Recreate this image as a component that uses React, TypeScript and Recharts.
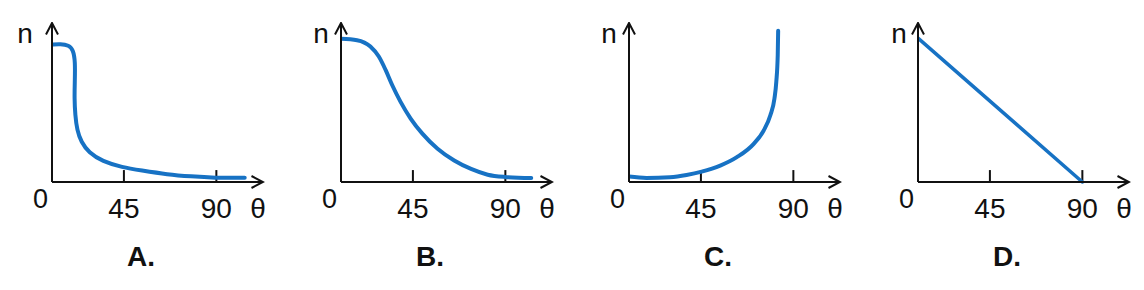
import * as React from "react";
import { Label, Line, LineChart, ReferenceDot, ReferenceLine, XAxis, YAxis } from "recharts";

// θ (origin sits at about θ=10, since the
// 45 and 90 ticks are not spaced from the origin evenly)
const THETA_MIN = 10;
const THETA_MAX = 112.7;
const TICKS = [45, 90];
const PANELS = ["A.", "B.", "C.", "D."];

const thetaA = [10, 14.1, 18.2, 20.3, 21.3, 21.1, 20.9, 21.3, 22.2, 24.2, 27.9, 34.5, 44.2, 53.2, 66.3, 77.7, 89.1, 103.8];
const nA = [86.4, 86.8, 86, 83.2, 75.8, 63.2, 52.6, 42.1, 32.6, 25.2, 18.5, 13.0, 9.2, 7.3, 4.7, 3.5, 2.6, 2.6];

const thetaB = [10, 17.8, 24.3, 28.4, 31.7, 34.9, 39, 43.9, 49.6, 57, 65.1, 73.3, 81.4, 89.6, 102.6];
const nB = [90.1, 89.2, 85.2, 78.9, 70.5, 61, 50.4, 39.9, 30.4, 20.9, 13.5, 8.2, 4.6, 3.2, 2.5];

const thetaC = [10, 18.5, 29.9, 38, 45.4, 54.4, 62.5, 70.7, 75.6, 78.8, 80.8, 81.7, 82.4, 82.6];
const nC = [3.4, 2.5, 3.0, 4.4, 6.5, 10.3, 15.6, 24, 32.5, 42, 52.5, 63.1, 80, 95.1];

const thetaD = [10, 90];
const nD = [90.5, 0];

const BLUE = "#1772c4";
const INK = "#111";
const FONT = "'Liberation Sans', Arial, Helvetica, sans-serif";

const zip = (t: number[], n: number[]) => t.map((v, i) => ({ t: v, n: n[i] }));

const SERIES = [
  { data: zip(thetaA, nA), curve: "basis", width: 4 },
  { data: zip(thetaB, nB), curve: "monotone", width: 4 },
  { data: zip(thetaC, nC), curve: "monotone", width: 4 },
  { data: zip(thetaD, nD), curve: "linear", width: 3.5 },
] as const;

// origin x of each panel, and where its "n" sits left of the axis
const ORIGIN_X = [52, 341, 629, 918];
const N_SHIFT = [-27, -20, -20, -19];

const W = 275;
const H = 290;
const LEFT = 50;

function Panel({ i }: { i: number }) {
  const s = SERIES[i];
  const mk = `arrow${i}`;
  return (
    <div style={{ position: "absolute", left: ORIGIN_X[i] - LEFT, top: 0 }}>
      <LineChart width={W} height={H} data={s.data as any} margin={{ top: 23, right: W - LEFT - 211, bottom: 68, left: LEFT - 1 }}>
        <defs>
          <marker id={mk} viewBox="0 0 14 14" refX={12.5} refY={7} markerWidth={14} markerHeight={14} markerUnits="userSpaceOnUse" orient="auto-start-reverse">
            <path d="M1 1 L12.5 7 L1 13" fill="none" stroke={INK} strokeWidth={2} />
          </marker>
        </defs>
        <XAxis
          dataKey="t"
          type="number"
          domain={[THETA_MIN, THETA_MAX]}
          ticks={TICKS}
          allowDataOverflow
          height={40}
          tickLine={false}
          tickSize={0}
          tickMargin={16}
          tick={{ fill: INK, fontSize: 28 }}
          axisLine={{ stroke: INK, strokeWidth: 2, markerEnd: `url(#${mk})` }}
          label={{
            content: ({ viewBox }: any) => (
              <text x={viewBox.x + viewBox.width - 5} y={viewBox.y + 36} textAnchor="middle" fontSize={28} fill={INK}>θ</text>
            ),
          }}
        />
        <YAxis
          type="number"
          domain={[0, 100]}
          width={1}
          tick={false}
          tickLine={false}
          axisLine={{ stroke: INK, strokeWidth: 2, markerStart: `url(#${mk})` }}
          label={{
            content: ({ viewBox }: any) => (
              <text x={viewBox.x + viewBox.width + N_SHIFT[i]} y={viewBox.y + 20} textAnchor="middle" fontSize={28} fill={INK}>n</text>
            ),
          }}
        />
        {TICKS.map((t) => (
          <ReferenceLine key={t} segment={[{ x: t, y: 0 }, { x: t, y: 7.5 }]} stroke={INK} strokeWidth={2} />
        ))}
        <ReferenceDot x={THETA_MIN} y={0} r={0} stroke="none" fill="none">
          <Label
            content={({ viewBox }: any) => (
              <text x={viewBox.x - 4} y={viewBox.y + 26} textAnchor="end" fontSize={27} fill={INK}>0</text>
            )}
          />
        </ReferenceDot>
        <Line type={s.curve as any} dataKey="n" stroke={BLUE} strokeWidth={s.width} strokeLinecap="round" dot={false} activeDot={false} isAnimationActive={false} />
      </LineChart>
      <div style={{ position: "absolute", left: LEFT + 89 - 30, width: 60, top: 241, textAlign: "center", fontWeight: 700, fontSize: 28, color: INK }}>
        {PANELS[i]}
      </div>
    </div>
  );
}

export default function App() {
  return (
    <div style={{ position: "fixed", left: 0, top: 0, width: 1144, height: 290, background: "#fff", fontFamily: FONT, overflow: "hidden" }}>
      {PANELS.map((_, i) => (
        <Panel key={i} i={i} />
      ))}
    </div>
  );
}
